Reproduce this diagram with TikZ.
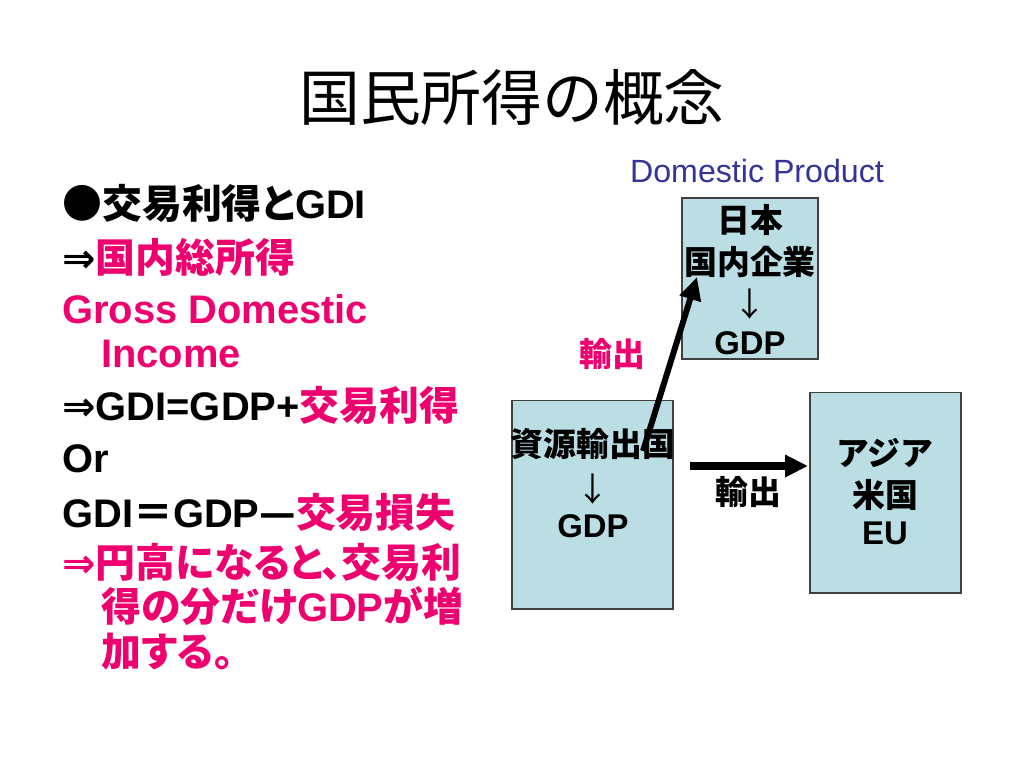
\documentclass[tikz,border=0pt]{standalone}
\usepackage{fontspec}
\setmainfont{Liberation Sans}
\newfontfamily\jp{Noto Sans CJK JP}
\newfontfamily\jpp{Noto Sans CJK JP}[RawFeature=+palt]
\newfontfamily\sym{DejaVu Sans}
\usetikzlibrary{arrows.meta}
\definecolor{pinkred}{RGB}{238,0,110}
\definecolor{boxblue}{RGB}{186,222,227}
\definecolor{navy}{RGB}{51,51,153}
\newcommand{\J}[1]{{\jpp #1}}
\newcommand{\R}[1]{\textcolor{pinkred}{#1}}

\begin{document}
\begin{tikzpicture}[x=0.02cm, y=-0.02cm,
  listline/.style={anchor=base west, inner sep=0pt, font=\fontsize{22.7}{27}\selectfont\bfseries},
  box/.style={draw=black!75, line width=0.6pt, fill=boxblue, inner sep=0pt},
  boxtxt/.style={inner sep=0pt, font=\jp\fontsize{18.7}{22}\selectfont\bfseries},
  exparrow/.style={-{Triangle[length=13pt,width=12pt]}, line width=3.4pt}]
\useasboundingbox (0,0) rectangle (1024,768);
\node[anchor=base, inner sep=0pt, font=\jp\fontsize{34.6}{40}\selectfont] (title) at (512,120) {国民所得の概念};
\node[listline] (l1) at (62,218) {\J{●交易利得と}GDI};
\node[listline] (l2) at (62,272) {{\sym ⇒}\R{\J{国内総所得}}};
\node[listline, pinkred] (l3) at (62,323) {Gross Domestic};
\node[listline, pinkred] (l4) at (101,367) {Income};
\node[listline] (l5) at (62,420) {{\sym ⇒}GDI=GDP+\R{\J{交易利得}}};
\node[listline] (l6) at (62,472) {Or};
\node[listline] (l7) at (62,527) {GDI\J{＝}GDP\J{—}\R{\J{交易損失}}};
\node[listline, pinkred] (l8) at (62,577) {{\sym ⇒}\J{円高になると、交易利}};
\node[listline, pinkred] (l9) at (101,621) {\J{得の分だけ}GDP\J{が増}};
\node[listline, pinkred] (l10) at (101,666) {\J{加する。}};
\node[anchor=base, inner sep=0pt, navy, font=\fontsize{18.3}{22}\selectfont] (dp) at (757,182) {Domestic Product};
\node[box, minimum width=2.72cm, minimum height=3.22cm] (japan) at (750,278.5) {};
\node[box, minimum width=3.22cm, minimum height=4.18cm] (resource) at (592.5,504.5) {};
\node[box, minimum width=3.02cm, minimum height=4.02cm] (asia) at (885.5,492.5) {};
\node[boxtxt] (jpname) at (750,220) {日本};
\node[boxtxt] (jpfirms) at (750,262) {国内企業};
\node[boxtxt] (jpdown) at (750,304) {\mdseries ↓};
\node[boxtxt] (jpgdp) at (750,343) {\rmfamily GDP};
\node[boxtxt] (resname) at (593,444) {資源輸出国};
\node[boxtxt] (resdown) at (593,489) {\mdseries ↓};
\node[boxtxt] (resgdp) at (593,526) {\rmfamily GDP};
\node[boxtxt] (asia1) at (885,453) {アジア};
\node[boxtxt] (asia2) at (885,495) {米国};
\node[boxtxt] (asia3) at (885,533) {\rmfamily EU};
\node[boxtxt, pinkred] (exp1) at (612,354) {輸出};
\node[boxtxt] (exp2) at (748,492) {輸出};
\coordinate (resup) at (643,451);
\coordinate (jptip) at (697,277);
\coordinate (resright) at (690,466);
\coordinate (asiatip) at (808,466);
\draw[exparrow] (resup) -- (jptip);
\draw[exparrow, line width=4.3pt] (resright) -- (asiatip);
\end{tikzpicture}
\end{document}
